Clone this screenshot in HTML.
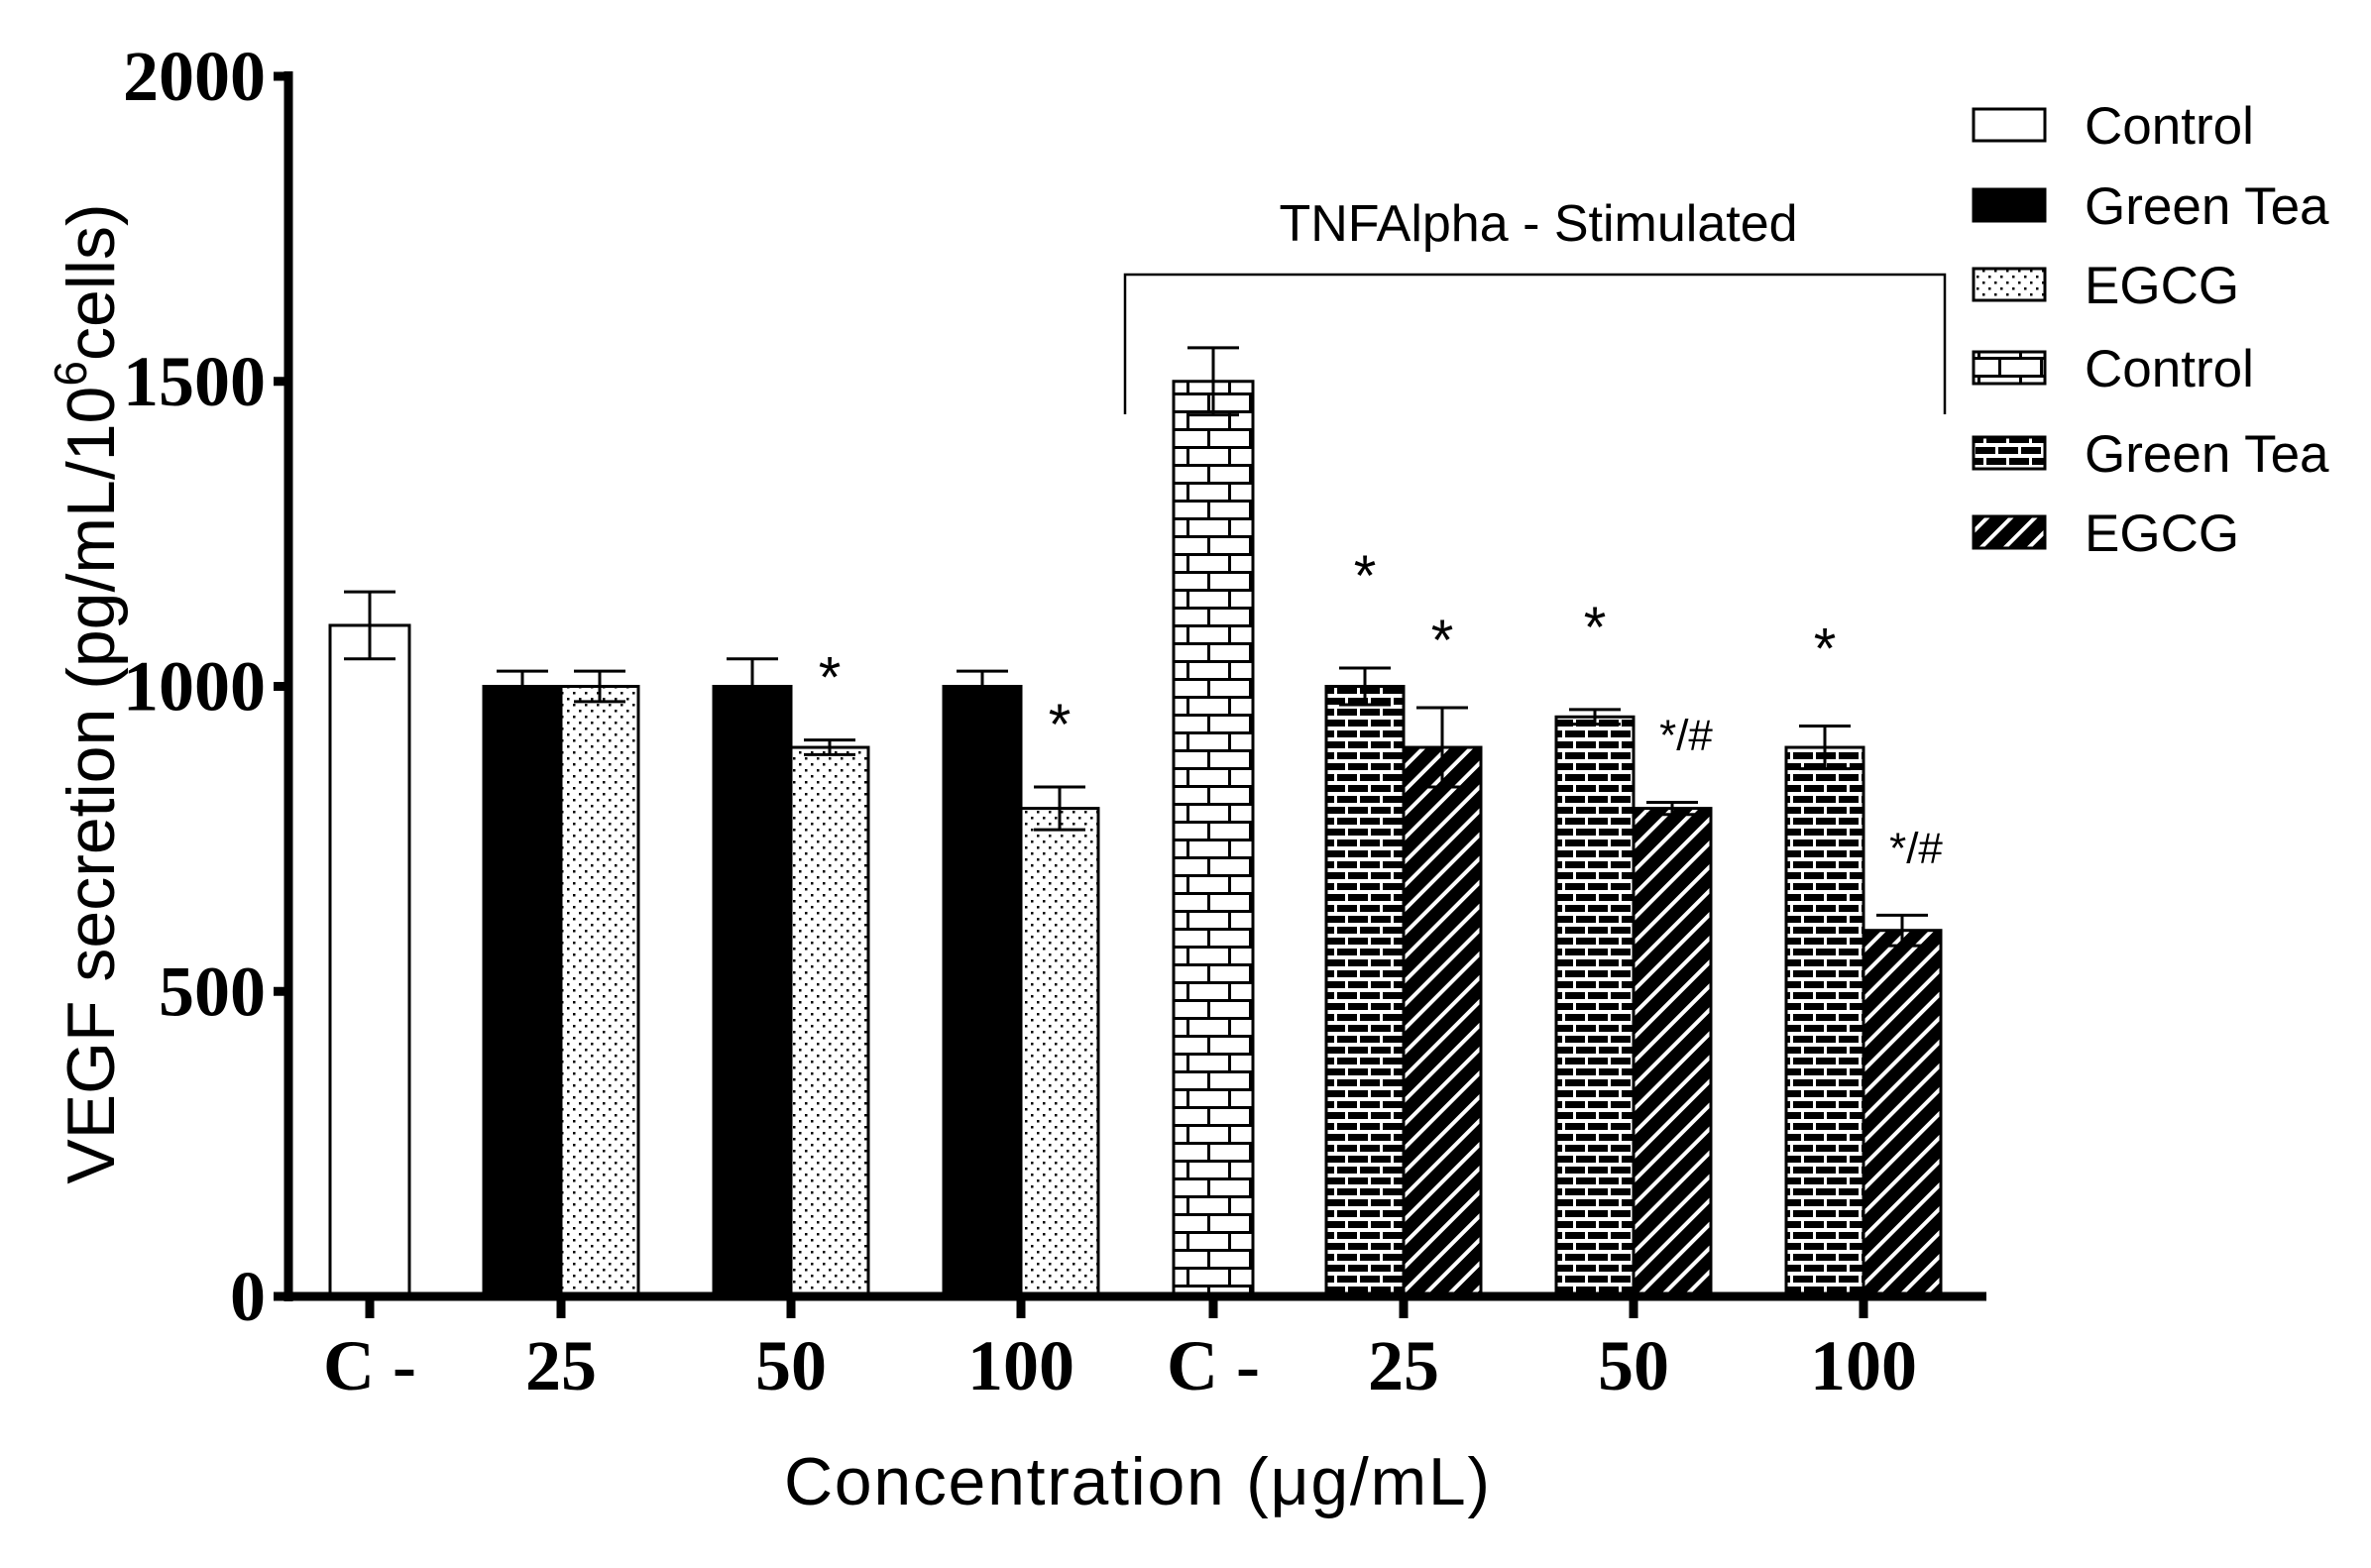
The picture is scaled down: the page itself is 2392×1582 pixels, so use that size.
<!DOCTYPE html>
<html><head><meta charset="utf-8"><style>
html,body{margin:0;padding:0;background:#fff;}
svg{display:block;}
</style></head><body>
<svg id="chart" width="2392" height="1582" viewBox="0 0 2392 1582" xmlns="http://www.w3.org/2000/svg">
<defs>
<pattern id="dots" patternUnits="userSpaceOnUse" width="12" height="12"><rect width="12" height="12" fill="#fff"/><rect x="2" y="2" width="2.5" height="2.5" fill="#000"/><rect x="8" y="8" width="2.5" height="2.5" fill="#000"/></pattern>
<pattern id="brick" patternUnits="userSpaceOnUse" width="42" height="36"><rect width="42" height="36" fill="#fff"/><path d="M0 1.5H42M0 19.5H42M1.5 0V18M22.5 18V36" stroke="#000" stroke-width="3"/></pattern>
<pattern id="brickdark" patternUnits="userSpaceOnUse" width="46" height="22"><rect width="46" height="22" fill="#fff"/><rect x="3" y="0" width="20" height="7" fill="#000"/><rect x="26" y="0" width="20" height="7" fill="#000"/><rect x="-8" y="11" width="20" height="7" fill="#000"/><rect x="15" y="11" width="20" height="7" fill="#000"/><rect x="38" y="11" width="20" height="7" fill="#000"/></pattern>
<pattern id="hatch" patternUnits="userSpaceOnUse" width="17" height="17" patternTransform="rotate(45)"><rect width="17" height="17" fill="#000"/><rect x="0" y="0" width="4" height="17" fill="#fff"/></pattern>
</defs>
<g id="plot"></g>
</svg>
<script>
const categories = ["C -","25","50","100","C -","25","50","100"];
const yTicks = [0,500,1000,1500,2000];
const barGroup = [0,1,1,2,2,3,3,4,5,5,6,6,7,7];
const barSide  = [0,-1,1,-1,1,-1,1,0,-1,1,-1,1,-1,1];
const barValue = [1100,1000,1000,1000,900,1000,800,1500,1000,900,950,800,900,600];
const barError = [55,25,25,45,12,25,35,55,30,65,12,10,35,25];
const barSeries= [0,1,2,1,2,1,2,3,4,5,4,5,4,5];
const seriesNames = ["Control","Green Tea","EGCG","Control","Green Tea","EGCG"];
const seriesFill = ["#fff","#000","url(#dots)","url(#brick)","url(#brickdark)","url(#hatch)"];
const annoBar = [4,6,8,9,10,11,12,13];
const annoText = ["*","*","*","*","*","*/#","*","*/#"];
const annoSmall = [0,0,0,0,0,1,0,1];
const annoGap = [55,55,85,60,75,58,70,58];

const NS="http://www.w3.org/2000/svg";
const g=document.getElementById('plot');
const y0=1308, yTop=77, yMax=2000;
function yS(v){return y0-(v/yMax)*(y0-yTop);}
const tickX=[373,566,798,1030,1224,1416,1648,1880];
function xS(i){return tickX[i];}
const bw=78;
function mk(tag,attrs,parent){const e=document.createElementNS(NS,tag);for(const k in attrs)e.setAttribute(k,attrs[k]);(parent||g).appendChild(e);return e;}

barValue.forEach((v,i)=>{
  const c=xS(barGroup[i]);
  let x = barSide[i]===0 ? c-40 : (barSide[i]<0 ? c-bw : c);
  const w = barSide[i]===0 ? 80 : bw;
  const r=mk('rect',{x:x,y:yS(v),width:w,height:y0-yS(v),fill:seriesFill[barSeries[i]],stroke:'#000','stroke-width':3});
  
  
  const cx=x+w/2, e=barError[i];
  const top=yS(v+e), bot=barSeries[i]===1?yS(v):yS(v-e);
  const eb=mk('path',{d:`M${cx} ${top}V${bot}M${cx-26} ${top}H${cx+26}`+(barSeries[i]===1?'':`M${cx-26} ${bot}H${cx+26}`),stroke:'#000','stroke-width':3,fill:'none'});
  
  
});
annoBar.forEach((b,k)=>{
  const c=xS(barGroup[b]);
  const cx = barSide[b]<0 ? c-bw/2 : c+bw/2;
  const small=annoSmall[k];
  const t=mk('text',{x:cx+(small?14:0),y:yS(barValue[b]+barError[b])-annoGap[k]+(small?5:12),'text-anchor':'middle','font-family':'Liberation Sans, sans-serif','font-size':small?44:58});
  t.textContent=annoText[k];
  
  
});
const ya=mk('path',{d:`M291 ${yTop-5}V${y0+5}`,stroke:'#000','stroke-width':9});


const xa=mk('path',{d:`M276 ${y0}H2004`,stroke:'#000','stroke-width':9});


yTicks.forEach(v=>{
  mk('path',{d:`M276 ${yS(v)}H291`,stroke:'#000','stroke-width':9});
  const t=mk('text',{x:268,y:yS(v)+24,'text-anchor':'end','font-family':'Liberation Serif, serif','font-weight':'bold','font-size':72});
  t.textContent=v;
  
  
});
categories.forEach((c,i)=>{
  mk('path',{d:`M${xS(i)} ${y0}V${y0+22}`,stroke:'#000','stroke-width':9});
  const t=mk('text',{x:xS(i),y:1402,'text-anchor':'middle','font-family':'Liberation Serif, serif','font-weight':'bold','font-size':72});
  t.textContent=c;
  
  
});
const xt=mk('text',{x:1147,y:1518,'text-anchor':'middle','font-family':'Liberation Sans, sans-serif','font-size':68,textLength:712});
xt.textContent='Concentration (μg/mL)';


const yt=mk('text',{transform:'translate(115,700) rotate(-90)','text-anchor':'middle','font-family':'Liberation Sans, sans-serif','font-size':68});
yt.innerHTML='VEGF secretion (pg/mL/10<tspan dy="-28" font-size="46">6</tspan><tspan dy="28">cells)</tspan>';


const br=mk('path',{d:'M1135 418V277H1962V418',stroke:'#000','stroke-width':2.5,fill:'none'});


const bt=mk('text',{x:1552,y:243,'text-anchor':'middle','font-family':'Liberation Sans, sans-serif','font-size':52});
bt.textContent='TNFAlpha - Stimulated';


const rowsY=[126,207,287,371,457,537];
seriesNames.forEach((n,i)=>{
  const r=mk('rect',{x:1991,y:rowsY[i]-16,width:72,height:32,fill:seriesFill[i],stroke:'#000','stroke-width':3});
  
  
  const t=mk('text',{x:2103,y:rowsY[i]+19,'font-family':'Liberation Sans, sans-serif','font-size':53});
  t.textContent=n;
  
  
});
</script>
</body></html>
